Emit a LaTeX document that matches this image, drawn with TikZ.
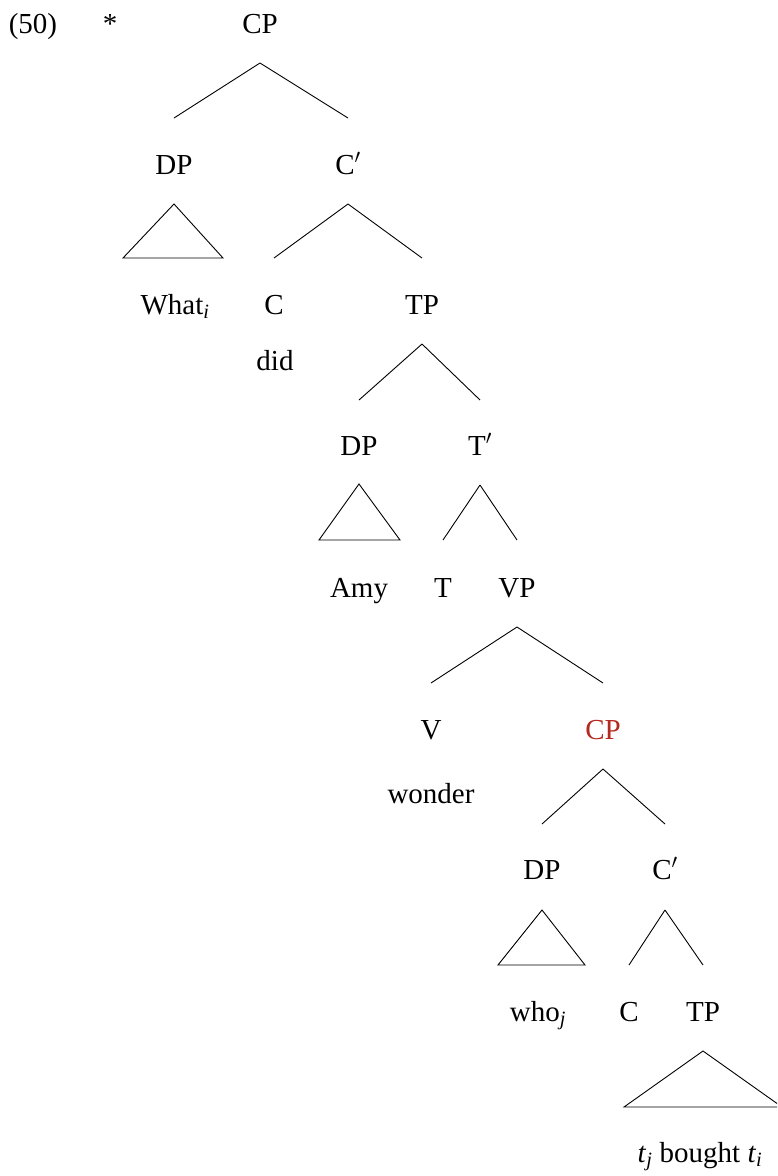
\documentclass[tikz,border=0pt]{standalone}
\usepackage{fix-cm}
\usepackage{fontspec}
\setmainfont{Liberation Serif}
\definecolor{cpred}{RGB}{180,40,30}
\newcommand{\sbi}[1]{\textsubscript{\textit{#1}}}
\begin{document}
\begin{tikzpicture}[x=1pt,y=-1pt,
  every node/.style={inner sep=0pt,text height=19pt,text depth=0pt,anchor=center,font=\fontsize{29}{34}\selectfont},
  br/.style={line width=0.9pt},
  hl/.style={text=cpred}]
\useasboundingbox (0,0) rectangle (777,1176);
\clip (0,0) rectangle (777,1176);
% labels
\node (ex) at (33,24) {(50)};
\node (star) at (110,24) {*};
\node (cp1) at (260,24) {CP};
\node (dp1) at (174,165) {DP};
\node (cb1) at (348,165) {C$'$};
\node (what) at (175,305) {What\sbi{i}};
\node (c1) at (274,305) {C};
\node (tp1) at (422,305) {TP};
\node (did) at (275,361) {did};
\node (dp2) at (359,446) {DP};
\node (tb) at (480,446) {T$'$};
\node (amy) at (359,588) {Amy};
\node (t) at (443,588) {T};
\node (vp) at (517,588) {VP};
\node (v) at (431,730) {V};
\node[hl] (cp2) at (603,730) {CP};
\node (wonder) at (431,794) {wonder};
\node (dp3) at (542,870) {DP};
\node (cb2) at (665,870) {C$'$};
\node (who) at (538,1012) {who\sbi{j}};
\node (c2) at (629,1012) {C};
\node (tp2) at (703,1012) {TP};
\node (tbt) at (700,1153) {\textit{t}\sbi{j} bought \textit{t}\sbi{i}};
% branches
\draw[br] ([yshift=-39pt]cp1.center) -- ([yshift=47pt]dp1.center);
\draw[br] ([yshift=-39pt]cp1.center) -- ([yshift=47pt]cb1.center);
\draw[br] ([yshift=-39pt]cb1.center) -- ([yshift=47pt]c1.center);
\draw[br] ([yshift=-39pt]cb1.center) -- ([yshift=47pt]tp1.center);
\draw[br] ([yshift=-39pt]tp1.center) -- ([yshift=46pt]dp2.center);
\draw[br] ([yshift=-39pt]tp1.center) -- ([yshift=46pt]tb.center);
\draw[br] ([yshift=-39pt]tb.center) -- ([yshift=48pt]t.center);
\draw[br] ([yshift=-39pt]tb.center) -- ([yshift=48pt]vp.center);
\draw[br] ([yshift=-39pt]vp.center) -- ([yshift=47pt]v.center);
\draw[br] ([yshift=-39pt]vp.center) -- ([yshift=47pt]cp2.center);
\draw[br] ([yshift=-39pt]cp2.center) -- ([yshift=46pt]dp3.center);
\draw[br] ([yshift=-39pt]cp2.center) -- ([yshift=46pt]cb2.center);
\draw[br] ([yshift=-40pt]cb2.center) -- ([yshift=47pt]c2.center);
\draw[br] ([yshift=-40pt]cb2.center) -- ([yshift=47pt]tp2.center);
% triangles
\draw[br] ([yshift=-39pt]dp1.center) -- ([xshift=-52pt,yshift=47pt]what.center) -- ([xshift=48pt,yshift=47pt]what.center) -- cycle;
\draw[br] ([yshift=-38pt]dp2.center) -- ([xshift=-40pt,yshift=48pt]amy.center) -- ([xshift=41pt,yshift=48pt]amy.center) -- cycle;
\draw[br] ([yshift=-40pt]dp3.center) -- ([xshift=-40pt,yshift=47pt]who.center) -- ([xshift=47pt,yshift=47pt]who.center) -- cycle;
\draw[br] ([yshift=-39pt]tp2.center) -- ([xshift=-76pt,yshift=46pt]tbt.center) -- ([xshift=82pt,yshift=46pt]tbt.center) -- cycle;
\end{tikzpicture}
\end{document}
